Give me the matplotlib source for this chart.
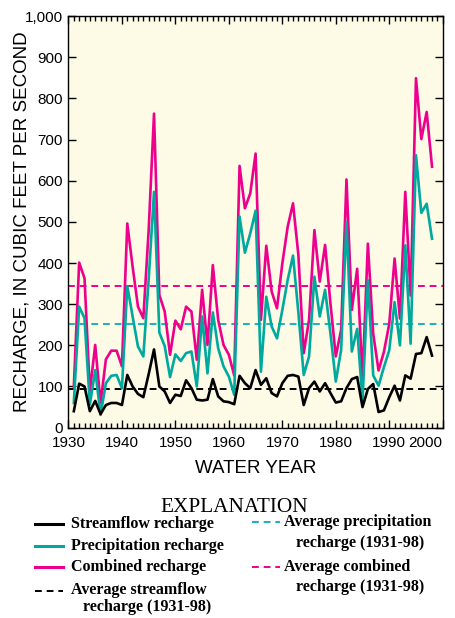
import matplotlib
matplotlib.use('Agg')
import matplotlib.pyplot as plt
from matplotlib.lines import Line2D
from matplotlib.ticker import MultipleLocator, FuncFormatter

# water years 1931-98
years = list(range(1931, 1999))

streamflow = [40, 107, 100, 40, 65, 33, 55, 60, 60, 55,
              128, 100, 82, 74, 130, 190, 100, 88, 60, 80,
              77, 115, 96, 68, 66, 68, 118, 76, 64, 62,
              57, 126, 108, 96, 140, 104, 120, 84, 76, 108,
              126, 128, 124, 55, 96, 112, 88, 108, 84, 61,
              64, 96, 118, 123, 50, 94, 106, 38, 42, 74,
              102, 66, 127, 119, 179, 181, 220, 175]

precip = [60, 294, 266, 56, 140, 31, 108, 126, 128, 96,
          344, 270, 197, 173, 360, 573, 231, 198, 123, 178,
          162, 181, 185, 100, 270, 132, 280, 193, 149, 124,
          80, 513, 425, 472, 527, 136, 318, 246, 217, 286,
          359, 418, 280, 128, 173, 367, 270, 335, 229, 112,
          189, 500, 185, 240, 66, 358, 127, 102, 147, 188,
          305, 200, 443, 204, 662, 522, 544, 459]

combined = [100, 401, 363, 88, 201, 60, 166, 187, 187, 149,
            496, 391, 294, 266, 480, 763, 322, 282, 177, 260,
            239, 294, 282, 165, 335, 201, 395, 262, 201, 177,
            127, 636, 533, 569, 666, 262, 442, 331, 290, 399,
            488, 545, 420, 181, 262, 480, 355, 444, 302, 173,
            238, 603, 286, 386, 119, 447, 228, 139, 184, 252,
            411, 265, 573, 321, 849, 701, 767, 634]

avg_streamflow = 94
avg_precip = 251
avg_combined = 344

xticks = [1930, 1940, 1950, 1960, 1970, 1980, 1990, 2000]

black = '#000000'
teal = '#00A99D'
magenta = '#EC008C'
cyan_dash = '#1BAFC4'

fig = plt.figure(figsize=(4.55, 6.18), dpi=100)
ax = fig.add_axes([0.1505, 0.308, 0.8225, 0.666])
ax.set_facecolor('#FDFAE6')

ax.axhline(avg_combined, color=magenta, lw=1.4, ls=(0, (3.5, 2.5)), zorder=1)
ax.axhline(avg_precip, color=cyan_dash, lw=1.4, ls=(0, (3.5, 2.5)), zorder=1)
ax.axhline(avg_streamflow, color=black, lw=1.4, ls=(0, (3.5, 2.5)), zorder=1)

ax.plot(years, combined, color=magenta, lw=1.9, zorder=2)
ax.plot(years, precip, color=teal, lw=1.9, zorder=3)
ax.plot(years, streamflow, color=black, lw=1.9, zorder=4)

ax.set_xlim(1930, 2000)
ax.set_ylim(0, 1000)
ax.set_xticks(xticks)
ax.xaxis.set_minor_locator(MultipleLocator(1))
ax.yaxis.set_major_locator(MultipleLocator(100))
ax.yaxis.set_major_formatter(FuncFormatter(lambda v, p: '{:,.0f}'.format(v)))

ax.tick_params(which='both', direction='in', top=True, right=True,
               width=1.0, labelsize=11, pad=4, labelfontfamily='Liberation Sans')
ax.tick_params(axis='x', which='major', pad=6)
ax.tick_params(which='major', length=6)
ax.tick_params(which='minor', length=3.5)
ax.xaxis.get_major_ticks()[-1].label1.set_horizontalalignment('right')
for s in ax.spines.values():
    s.set_linewidth(1.0)

ax.set_xlabel('WATER YEAR', family='Liberation Sans', fontsize=13.5, labelpad=7)
ax.set_ylabel('RECHARGE, IN CUBIC FEET PER SECOND', family='Liberation Sans',
              fontsize=13.5, labelpad=-4)

# explanation block
W, H = 455.0, 618.0


def fx(px):
    return px / W


def fy(py):
    return 1 - py / H


fig.text(fx(234), fy(507), 'EXPLANATION', family='Liberation Serif',
         fontsize=15.3, ha='center', va='center')


def key(x0, x1, y, color, dashed=False):
    ls = (0, (3.5, 2.5)) if dashed else '-'
    fig.add_artist(Line2D([fx(x0), fx(x1)], [fy(y), fy(y)], color=color,
                          lw=1.4 if dashed else 2.2, ls=ls,
                          transform=fig.transFigure))


txt = dict(family='Liberation Serif', fontweight='bold', fontsize=11.5,
           va='center', ha='left')

key(35, 63, 524, black)
fig.text(fx(71), fy(524), 'Streamflow recharge', **txt)
key(35, 63, 546, teal)
fig.text(fx(71), fy(546), 'Precipitation recharge', **txt)
key(35, 63, 567, magenta)
fig.text(fx(71), fy(567), 'Combined recharge', **txt)
key(35, 63, 591, black, dashed=True)
fig.text(fx(71), fy(590), 'Average streamflow', **txt)
fig.text(fx(83), fy(607), 'recharge (1931-98)', **txt)

key(252, 280, 522, cyan_dash, dashed=True)
fig.text(fx(284), fy(522), 'Average precipitation', **txt)
fig.text(fx(296), fy(543), 'recharge (1931-98)', **txt)
key(252, 280, 567, magenta, dashed=True)
fig.text(fx(284), fy(567), 'Average combined', **txt)
fig.text(fx(296), fy(587), 'recharge (1931-98)', **txt)

plt.savefig('out.png', dpi=100)
